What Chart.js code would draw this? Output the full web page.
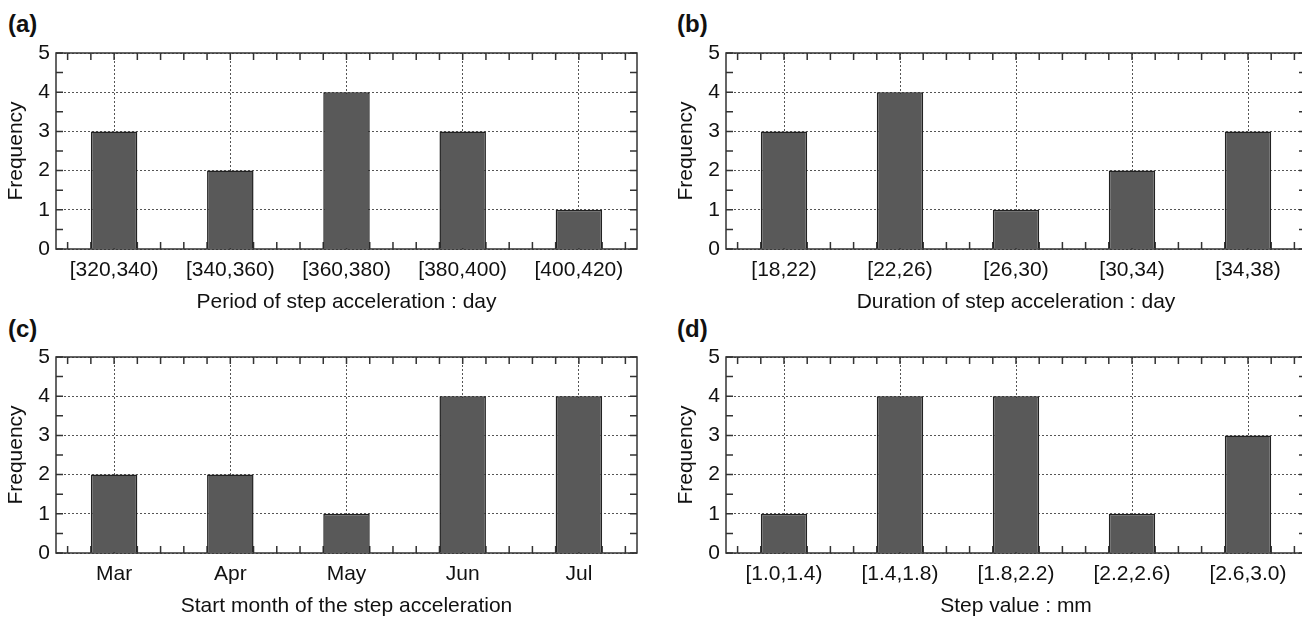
<!DOCTYPE html>
<html>
<head>
<meta charset="utf-8">
<script src="https://cdn.jsdelivr.net/npm/chart.js@4.4.0/dist/chart.umd.min.js"></script>
<style>
html, body { margin: 0; padding: 0; background: #fff; overflow: hidden; width: 1302px; height: 617px; }
.panel { position: absolute; width: 640px; height: 285px; }
.tag { position: absolute; font: bold 24px "Liberation Sans", Arial, sans-serif; line-height: 24px; color: #111; }
</style>
</head>
<body>
<div class="tag" style="left:8px;top:12px">(a)</div>
<div class="tag" style="left:677px;top:12px">(b)</div>
<div class="tag" style="left:8px;top:317px">(c)</div>
<div class="tag" style="left:677px;top:317px">(d)</div>

<div class="panel" style="left:0;top:30px"><canvas id="ca"></canvas></div>
<div class="panel" style="left:670px;top:30px"><canvas id="cb"></canvas></div>
<div class="panel" style="left:0;top:334px"><canvas id="cc"></canvas></div>
<div class="panel" style="left:670px;top:334px"><canvas id="cd"></canvas></div>

<script>
Chart.defaults.font.family = '"Liberation Sans", Arial, sans-serif';
Chart.defaults.color = '#111';

const periodLabels = ["[320,340)", "[340,360)", "[360,380)", "[380,400)", "[400,420)"];
const periodFreq = [3, 2, 4, 3, 1];
const durationLabels = ["[18,22)", "[22,26)", "[26,30)", "[30,34)", "[34,38)"];
const durationFreq = [3, 4, 1, 2, 3];
const monthLabels = ["Mar", "Apr", "May", "Jun", "Jul"];
const monthFreq = [2, 2, 1, 4, 4];
const stepLabels = ["[1.0,1.4)", "[1.4,1.8)", "[1.8,2.2)", "[2.2,2.6)", "[2.6,3.0)"];
const stepFreq = [1, 4, 4, 1, 3];
const yMax = 5;

// frame round the plot and small inward ticks on all four sides
const boxTicks = {
    id: 'boxTicks',
    beforeDatasetsDraw(chart) {
        const { ctx, chartArea: a, scales: { x, y } } = chart;
        const len = 7;
        ctx.save();
        ctx.strokeStyle = '#333';
        ctx.lineWidth = 1.5;
        ctx.beginPath();
        for (let v = 0; v <= yMax; v += 0.5) {
            const py = y.getPixelForValue(v);
            ctx.moveTo(a.left, py); ctx.lineTo(a.left + len, py);
            ctx.moveTo(a.right, py); ctx.lineTo(a.right - len, py);
        }
        const n = chart.data.labels.length;
        for (let k = -2; k <= n * 5 - 3; k++) {
            const px = x.getPixelForValue(k / 5);
            ctx.moveTo(px, a.top); ctx.lineTo(px, a.top + len);
            ctx.moveTo(px, a.bottom); ctx.lineTo(px, a.bottom - len);
        }
        ctx.stroke();
        ctx.restore();
    },
    afterDatasetsDraw(chart) {
        const { ctx, chartArea: a } = chart;
        ctx.save();
        ctx.strokeStyle = '#333';
        ctx.lineWidth = 1.5;
        ctx.strokeRect(a.left, a.top, a.right - a.left, a.bottom - a.top);
        ctx.restore();
    }
};

function makeChart(id, labels, values, xTitle, padRight) {
    return new Chart(id, {
        type: 'bar',
        data: {
            labels: labels,
            datasets: [{
                data: values,
                backgroundColor: '#595959',
                borderColor: '#222',
                borderWidth: 1.5,
                barPercentage: 0.4,
                categoryPercentage: 1
            }]
        },
        options: {
            responsive: true,
            maintainAspectRatio: false,
            animation: false,
            layout: { padding: { top: 23, right: padRight, left: 0, bottom: 0 } },
            plugins: {
                legend: { display: false },
                tooltip: { enabled: false }
            },
            scales: {
                x: {
                    grid: { offset: false, color: '#555', lineWidth: 1, drawTicks: false },
                    border: { display: false, dash: [2, 2] },
                    ticks: { padding: 9, font: { size: 21 } },
                    title: { display: true, text: xTitle, font: { size: 21 }, padding: 0 },
                    afterFit(s) { s.height = 66; }
                },
                y: {
                    min: 0,
                    max: yMax,
                    ticks: { stepSize: 1, padding: 6, font: { size: 21 } },
                    grid: { color: '#555', lineWidth: 1, drawTicks: false },
                    border: { display: false, dash: [2, 2] },
                    title: { display: true, text: 'Frequency', font: { size: 21 }, padding: { top: 4, bottom: 0 } },
                    afterFit(s) { s.width = 56; }
                }
            }
        },
        plugins: [boxTicks]
    });
}

makeChart('ca', periodLabels, periodFreq, 'Period of step acceleration : day', 3);
makeChart('cb', durationLabels, durationFreq, 'Duration of step acceleration : day', 4);
makeChart('cc', monthLabels, monthFreq, 'Start month of the step acceleration', 3);
makeChart('cd', stepLabels, stepFreq, 'Step value : mm', 4);
</script>
</body>
</html>
